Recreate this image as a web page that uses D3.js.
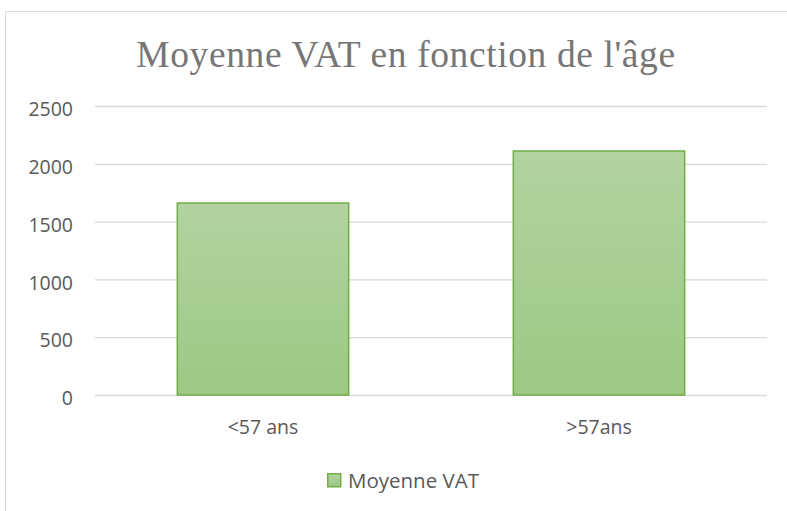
<!DOCTYPE html>
<html>
<head>
<meta charset="utf-8">
<script src="https://cdn.jsdelivr.net/npm/d3@7"></script>
<style>
  body { margin: 0; background: #fff; }
  svg { display: block; }
</style>
</head>
<body>
<div id="chart"></div>
<script>
// data
const categories = ["<57 ans", ">57ans"];
const values = [1661, 2111];
const yTicks = [0, 500, 1000, 1500, 2000, 2500];
const seriesName = "Moyenne VAT";
const title = "Moyenne VAT en fonction de l'âge";

const W = 787, H = 511;
const margin = { top: 106, right: 20, bottom: 116, left: 95 };
const width = 767 - margin.left;
const height = 395 - margin.top;

const svg = d3.select("#chart").append("svg")
    .attr("width", W)
    .attr("height", H);

const defs = svg.append("defs");
const grad = defs.append("linearGradient")
    .attr("id", "barGrad")
    .attr("x1", 0).attr("y1", 0).attr("x2", 0).attr("y2", 1);
grad.append("stop").attr("offset", "0%").attr("stop-color", "#b2d3a1");
grad.append("stop").attr("offset", "100%").attr("stop-color", "#9cc884");

// chart frame (left & top edges visible in the picture)
svg.append("rect")
    .attr("x", 5.5).attr("y", 11.5)
    .attr("width", 800).attr("height", 520)
    .attr("fill", "none")
    .attr("stroke", "#d9d9d9")
    .attr("stroke-width", 1);

svg.append("text")
    .attr("x", 406)
    .attr("y", 67)
    .attr("text-anchor", "middle")
    .style("font-family", "'Liberation Serif', 'Times New Roman', serif")
    .style("font-size", "37.5px")
    .style("letter-spacing", "0.6px")
    .style("fill", "#767676")
    .text(title);

const g = svg.append("g")
    .attr("transform", "translate(" + margin.left + "," + margin.top + ")");

const xScale = d3.scaleBand()
    .domain(categories)
    .range([0, width])
    .paddingInner(0.49)
    .paddingOuter(0.245);

const yScale = d3.scaleLinear()
    .domain([0, 2500])
    .range([height, 0]);

const labelFont = "'Open Sans', 'Noto Sans', sans-serif";

// gridlines
g.append("g")
    .call(d3.axisLeft(yScale).tickValues(yTicks).tickSize(-width).tickFormat(""))
    .call(a => a.select(".domain").remove())
    .call(a => a.selectAll("line").attr("stroke", "#d9d9d9").attr("stroke-width", 1.3));

// y labels
g.append("g")
    .attr("transform", "translate(-22,0)")
    .call(d3.axisLeft(yScale).tickValues(yTicks).tickSize(0).tickPadding(0).tickFormat(d3.format("d")))
    .call(a => a.select(".domain").remove())
    .call(a => a.selectAll("text")
        .attr("dy", "0.5em")
        .style("font-family", labelFont)
        .style("font-size", "19.5px")
        .attr("fill", "#595959"));

// bars
g.selectAll(".bar")
    .data(values)
    .enter()
    .append("rect")
    .attr("class", "bar")
    .attr("x", (d, i) => xScale(categories[i]))
    .attr("y", d => yScale(d))
    .attr("width", xScale.bandwidth())
    .attr("height", d => height - yScale(d))
    .attr("fill", "url(#barGrad)")
    .attr("stroke", "#70ad47")
    .attr("stroke-width", 1.5);

// x labels
g.append("g")
    .attr("transform", "translate(0," + height + ")")
    .call(d3.axisBottom(xScale).tickSize(0).tickPadding(25))
    .call(a => a.select(".domain").remove())
    .call(a => a.selectAll("text")
        .style("font-family", labelFont)
        .style("font-size", "19.5px")
        .attr("fill", "#595959"));

// legend
const legend = svg.append("g").attr("transform", "translate(327,473)");
legend.append("rect")
    .attr("x", 0.75).attr("y", 0.75)
    .attr("width", 13).attr("height", 13)
    .attr("fill", "url(#barGrad)")
    .attr("stroke", "#70ad47")
    .attr("stroke-width", 1.5);
legend.append("text")
    .attr("x", 21)
    .attr("y", 8)
    .attr("dy", "0.35em")
    .style("font-family", labelFont)
    .style("font-size", "20.5px")
    .attr("fill", "#595959")
    .text(seriesName);
</script>
</body>
</html>
